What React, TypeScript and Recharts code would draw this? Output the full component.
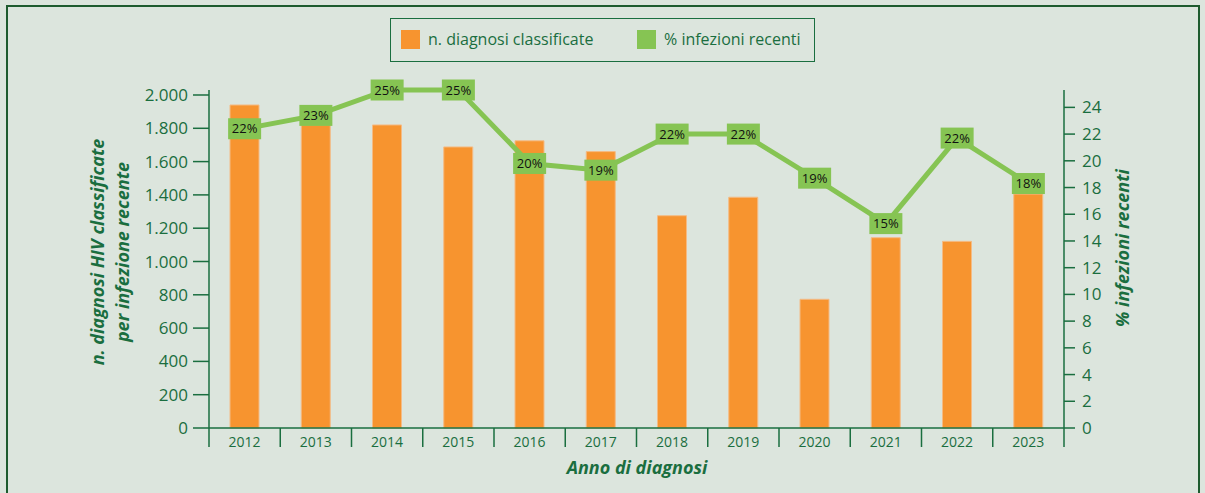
import { Bar, ComposedChart, LabelList, Line, XAxis, YAxis } from "recharts";

// Diagnosi HIV classificate per infezione recente, 2012–2023

const YEARS = ["2012", "2013", "2014", "2015", "2016", "2017", "2018", "2019", "2020", "2021", "2022", "2023"];
const DIAGNOSI = [1940, 1820, 1820, 1688, 1725, 1660, 1275, 1386, 773, 1143, 1121, 1405];
const PCT_RECENTI = [22.4, 23.4, 25.3, 25.3, 19.8, 19.3, 22.0, 22.0, 18.7, 15.3, 21.7, 18.3];
const LEFT_TICKS = [0, 200, 400, 600, 800, 1000, 1200, 1400, 1600, 1800, 2000];
const RIGHT_TICKS = [0, 2, 4, 6, 8, 10, 12, 14, 16, 18, 20, 22, 24];

const data = YEARS.map((anno, i) => ({
	anno,
	diagnosi: DIAGNOSI[i],
	pct: PCT_RECENTI[i],
}));

const W = 1205;
const H = 493;
const LEFT_W = 209;
const RIGHT_W = 141;
const BAND = (W - LEFT_W - RIGHT_W) / YEARS.length;

const BG = "#dce5dd";
const GREEN_TXT = "#1a6e3f";
const FRAME = "#1e5b2e";
const ORANGE = "#f7942f";
const LIME = "#86c453";
const FONT = '"Open Sans", "Noto Sans", sans-serif';

const fmtMigliaia = (v: number) => String(v).replace(/\B(?=(\d{3})+(?!\d))/g, ".");

// x ticks: separators sit on the category boundaries, not in the centre
function YearTick(props: any) {
	const { x, y, payload, index } = props;
	const half = BAND / 2;
	return (
		<g>
			<line x1={x - half} y1={y} x2={x - half} y2={y + 19} stroke={GREEN_TXT} strokeWidth={1.5} />
			{index === YEARS.length - 1 && (
				<line x1={x + half} y1={y} x2={x + half} y2={y + 19} stroke={GREEN_TXT} strokeWidth={1.5} />
			)}
			<text x={x} y={y + 19} textAnchor="middle" fill={GREEN_TXT} fontSize={14} fontFamily={FONT}>
				{payload.value}
			</text>
		</g>
	);
}

// green badge with the rounded percentage
function PctBadge(props: any) {
	const { x, y, value } = props;
	if (x == null || y == null) return null;
	return (
		<g>
			<rect x={x - 16.5} y={y - 10.5} width={33} height={21} fill={LIME} />
			<text x={x} y={y + 4.5} textAnchor="middle" fill="#111" fontSize={13} fontFamily={FONT}>
				{`${Math.round(value)}%`}
			</text>
		</g>
	);
}

const titleStyle: React.CSSProperties = {
	position: "absolute",
	color: GREEN_TXT,
	fontFamily: FONT,
	fontWeight: 700,
	fontStyle: "italic",
	fontSize: 18,
	textAlign: "center",
	whiteSpace: "nowrap",
};

export default function App() {
	return (
		<div style={{ position: "absolute", left: 0, top: 0, width: W, height: H, background: BG, overflow: "hidden" }}>
			{/* outer frame, bottom edge falls outside the picture */}
			<div
				style={{
					position: "absolute",
					left: 6,
					top: 5,
					width: 1190,
					height: 520,
					border: `2px solid ${FRAME}`,
				}}
			/>

			<ComposedChart
				width={W}
				height={H}
				data={data}
				margin={{ top: 90, right: 0, bottom: 25, left: 0 }}
				style={{ position: "absolute", left: 0, top: 0 }}
			>
				<XAxis
					dataKey="anno"
					height={40}
					interval={0}
					tickSize={0}
					tickMargin={0}
					tickLine={false}
					axisLine={{ stroke: GREEN_TXT, strokeWidth: 1.5 }}
					tick={<YearTick />}
				/>
				<YAxis
					yAxisId="left"
					width={LEFT_W}
					domain={[0, 2030]}
					ticks={LEFT_TICKS}
					tickFormatter={fmtMigliaia}
					tickSize={16}
					tickMargin={5}
					axisLine={{ stroke: GREEN_TXT, strokeWidth: 1.5 }}
					tickLine={{ stroke: GREEN_TXT, strokeWidth: 1.5 }}
					tick={{ fill: GREEN_TXT, fontSize: 17, fontFamily: FONT }}
				/>
				<YAxis
					yAxisId="right"
					orientation="right"
					width={RIGHT_W}
					domain={[0, 25.2]}
					ticks={RIGHT_TICKS}
					tickSize={11}
					tickMargin={7}
					axisLine={{ stroke: GREEN_TXT, strokeWidth: 1.5 }}
					tickLine={{ stroke: GREEN_TXT, strokeWidth: 1.5 }}
					tick={{ fill: GREEN_TXT, fontSize: 17, fontFamily: FONT, textAnchor: "start" }}
				/>
				<Bar
					yAxisId="left"
					dataKey="diagnosi"
					fill={ORANGE}
					stroke="#f4bb85"
					strokeWidth={1}
					barSize={29}
					isAnimationActive={false}
				/>
				<Line
					yAxisId="right"
					dataKey="pct"
					type="linear"
					stroke={LIME}
					strokeWidth={5}
					dot={false}
					activeDot={false}
					isAnimationActive={false}
				>
					<LabelList dataKey="pct" content={<PctBadge />} />
				</Line>
			</ComposedChart>

			{/* legend box */}
			<div
				style={{
					position: "absolute",
					left: 390,
					top: 18,
					width: 423,
					height: 42,
					border: `1.5px solid ${GREEN_TXT}`,
					fontFamily: FONT,
					fontSize: 16,
					color: GREEN_TXT,
				}}
			>
				<span style={{ position: "absolute", left: 10, top: 11, width: 19, height: 19, background: ORANGE }} />
				<span style={{ position: "absolute", left: 37, top: 9, lineHeight: "22px" }}>n. diagnosi classificate</span>
				<span style={{ position: "absolute", left: 246, top: 11, width: 19, height: 19, background: LIME }} />
				<span style={{ position: "absolute", left: 273, top: 9, lineHeight: "22px" }}>% infezioni recenti</span>
			</div>

			{/* axis titles */}
			<div
				style={{
					...titleStyle,
					left: 110 - 160,
					top: 252 - 25,
					width: 320,
					height: 50,
					lineHeight: "25px",
					transform: "rotate(-90deg)",
				}}
			>
				n. diagnosi HIV classificate
				<br />
				per infezione recente
			</div>
			<div
				style={{
					...titleStyle,
					left: 1122 - 110,
					top: 248 - 12,
					width: 220,
					height: 24,
					lineHeight: "24px",
					transform: "rotate(-90deg)",
				}}
			>
				% infezioni recenti
			</div>
			<div style={{ ...titleStyle, left: 637 - 110, top: 455, width: 220, lineHeight: "24px" }}>
				Anno di diagnosi
			</div>
		</div>
	);
}
